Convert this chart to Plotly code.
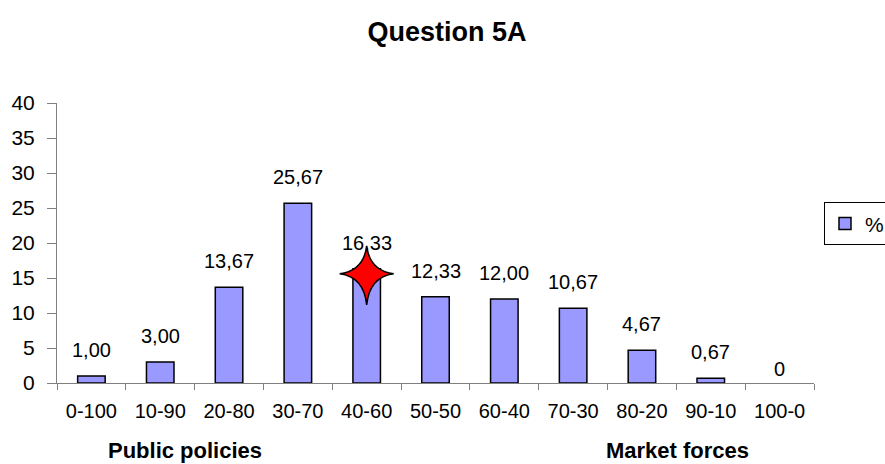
import plotly.graph_objects as go

# Survey answers for question 5A (share of respondents, %)
categories = ["0-100", "10-90", "20-80", "30-70", "40-60", "50-50",
              "60-40", "70-30", "80-20", "90-10", "100-0"]
percent = [1.00, 3.00, 13.67, 25.67, 16.33, 12.33, 12.00, 10.67, 4.67, 0.67, 0]
y_ticks = [0, 5, 10, 15, 20, 25, 30, 35, 40]

# Highlighted answer, marked with a red four-point star
star_category = "40-60"
star_value = 15.6

FONT = "Liberation Sans, Arial, sans-serif"


def fmt(v):
    return "0" if v == 0 else f"{v:.2f}".replace(".", ",")


fig = go.Figure()
fig.add_trace(go.Bar(
    x=categories, y=percent, name="%",
    marker=dict(color="#9999FF",
                line=dict(color="black", width=[1.5 if v > 0 else 0 for v in percent])),
    width=0.4,
))

# value labels above the bars
for c, v in zip(categories, percent):
    fig.add_annotation(x=c, y=v, text=fmt(v), showarrow=False,
                       yanchor="middle", yshift=26 if v > 0 else 14,
                       font=dict(family=FONT, size=20, color="black"))

# four-point star glyph (pixel-sized, anchored on the data point)
star_path = ("M 27,0 Q 3,3 0,28 Q -3,3 -27,0 "
             "Q -3,-3 0,-31 Q 3,-3 27,0 Z")
fig.add_shape(type="path", path=star_path,
              xref="x", yref="y", xsizemode="pixel", ysizemode="pixel",
              xanchor=star_category, yanchor=star_value,
              fillcolor="#FF0000", line=dict(color="black", width=1.5),
              layer="above")

# end-of-scale captions under the category axis
for txt, px in [("Public policies", 185), ("Market forces", 677)]:
    fig.add_annotation(xref="paper", yref="paper",
                       x=(px - 57) / 757, y=-(450 - 383) / 280,
                       text=f"<b>{txt}</b>", showarrow=False,
                       xanchor="center", yanchor="middle",
                       font=dict(family=FONT, size=22, color="black"))

fig.update_layout(
    width=885, height=464,
    margin=dict(l=57, r=71, t=103, b=81, autoexpand=False),
    paper_bgcolor="white", plot_bgcolor="white",
    title=dict(text="<b>Question 5A</b>", x=0.505, xanchor="center",
               y=1 - 32 / 464, yanchor="middle",
               font=dict(family=FONT, size=27, color="black")),
    font=dict(family=FONT, size=20, color="black"),
    showlegend=True,
    legend=dict(x=(824 - 57) / 757, y=0.568, xanchor="left", yanchor="middle",
                bordercolor="black", borderwidth=1, bgcolor="white",
                font=dict(family=FONT, size=21, color="black"),
                itemwidth=30),
    xaxis=dict(type="category", showline=True, linecolor="#808080", linewidth=1,
               ticks="outside", tickson="boundaries", ticklen=6, tickcolor="#808080",
               showgrid=False, tickfont=dict(size=20), ticklabelstandoff=10),
    yaxis=dict(range=[0, 40], tickvals=y_ticks, showline=True, linecolor="#808080",
               linewidth=1, ticks="outside", ticklen=9, tickcolor="#808080",
               showgrid=False, zeroline=False, tickfont=dict(size=21),
               ticklabelstandoff=8),
)

fig.write_html("out.html")
